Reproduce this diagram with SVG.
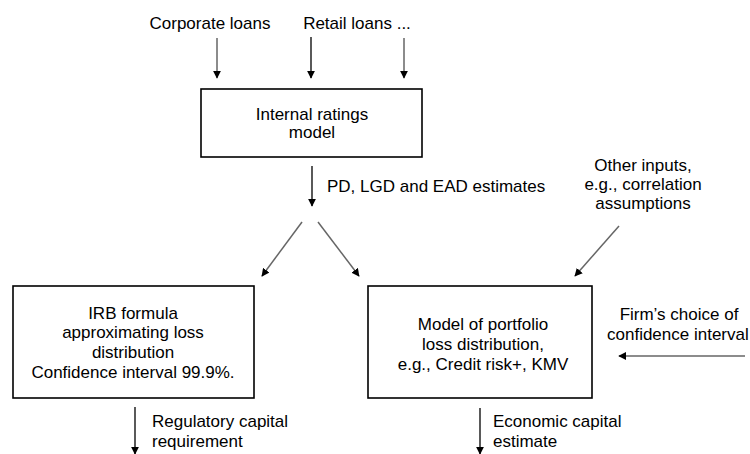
<svg xmlns="http://www.w3.org/2000/svg" width="750" height="454" viewBox="0 0 750 454">
  <defs>
    <marker id="head" viewBox="0 0 10 10" refX="9" refY="5" markerWidth="8" markerHeight="8" markerUnits="userSpaceOnUse" orient="auto">
      <path d="M0,0 L10,5 L0,10 Z" fill="#000"/>
    </marker>
  </defs>
  <style>
    text { font-family: "Liberation Sans", Arial, sans-serif; font-size: 17px; fill: #000; }
    .c { text-anchor: middle; }
    .box { fill: #fff; stroke: #000; stroke-width: 1.6; }
    .dark { stroke: #000; stroke-width: 1.3; fill: none; marker-end: url(#head); }
    .soft { stroke: #666; stroke-width: 1.5; fill: none; marker-end: url(#head); }
  </style>
  <rect width="750" height="454" fill="#fff"/>

  <g id="connectors">
    <line class="soft" x1="217" y1="38" x2="217" y2="78"/>
    <line class="dark" x1="311" y1="37" x2="311" y2="78"/>
    <line class="soft" x1="404" y1="38" x2="404" y2="78"/>
    <line class="dark" x1="312" y1="166" x2="312" y2="206"/>
    <line class="soft" x1="302" y1="222" x2="262" y2="276"/>
    <line class="soft" x1="318" y1="222" x2="359" y2="276"/>
    <line class="soft" x1="619" y1="226" x2="575" y2="276"/>
    <line class="soft" x1="745" y1="356" x2="619" y2="356"/>
    <line class="dark" x1="135" y1="407" x2="135" y2="454"/>
    <line class="dark" x1="480" y1="408" x2="480" y2="454"/>
  </g>

  <g id="corporate-loans">
    <text class="c" x="210" y="29">Corporate loans</text>
  </g>
  <g id="retail-loans">
    <text class="c" x="357" y="29">Retail loans ...</text>
  </g>

  <g id="internal-ratings-model">
    <rect class="box" x="201" y="89" width="221" height="68"/>
    <text class="c" x="312" y="120">Internal ratings</text>
    <text class="c" x="312" y="138">model</text>
  </g>

  <g id="estimates-label">
    <text x="327" y="192">PD, LGD and EAD estimates</text>
  </g>

  <g id="other-inputs">
    <text class="c" x="643" y="171">Other inputs,</text>
    <text class="c" x="643" y="190">e.g., correlation</text>
    <text class="c" x="643" y="209">assumptions</text>
  </g>

  <g id="irb-formula">
    <rect class="box" x="13" y="286" width="241" height="112"/>
    <text class="c" x="133" y="319">IRB formula</text>
    <text class="c" x="133" y="338">approximating loss</text>
    <text class="c" x="133" y="358">distribution</text>
    <text class="c" x="133" y="378">Confidence interval 99.9%.</text>
  </g>

  <g id="portfolio-model">
    <rect class="box" x="368" y="286" width="224" height="112"/>
    <text class="c" x="483" y="330">Model of portfolio</text>
    <text class="c" x="483" y="350">loss distribution,</text>
    <text class="c" x="483" y="370">e.g., Credit risk+, KMV</text>
  </g>

  <g id="confidence-choice">
    <text class="c" x="679" y="320">Firm’s choice of</text>
    <text x="607" y="340">confidence interval</text>
  </g>

  <g id="regulatory-capital">
    <text x="152" y="427">Regulatory capital</text>
    <text x="152" y="447">requirement</text>
  </g>

  <g id="economic-capital">
    <text x="493" y="427">Economic capital</text>
    <text x="493" y="447">estimate</text>
  </g>
</svg>
